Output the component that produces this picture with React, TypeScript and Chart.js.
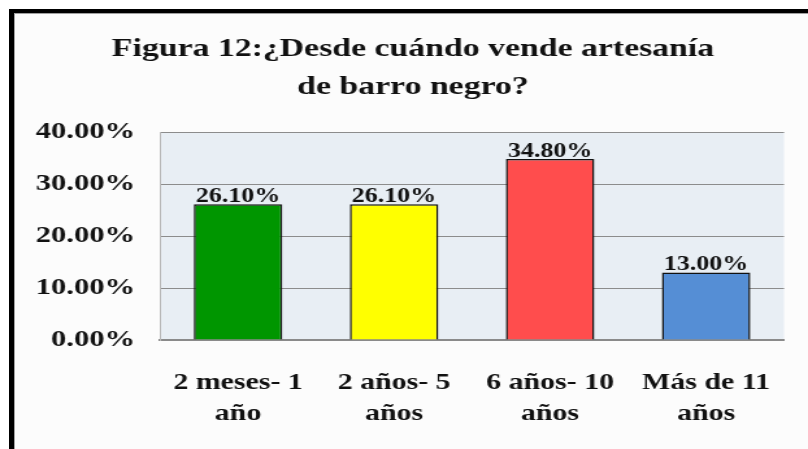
import React, { useEffect, useRef } from "react";
import { Chart, registerables } from "chart.js";

Chart.register(...registerables);

const titleLines = ["Figura 12:¿Desde cuándo vende artesanía", "de barro negro?"];
const categories: string[][] = [
  ["2 meses- 1", "año"],
  ["2 años- 5", "años"],
  ["6 años- 10", "años"],
  ["Más de 11", "años"],
];
const values = [26.1, 26.1, 34.8, 13.0];
const barColors = ["#009600", "#ffff00", "#ff4d4d", "#558ed5"];
const yTicks = [0, 10, 20, 30, 40];

const PAGE_W = 808;
const PAGE_H = 449;
const CANVAS_W = 622;
const SX = PAGE_W / CANVAS_W;
const SERIF = "'Liberation Serif', 'Times New Roman', serif";

const fmt = (v: number) => v.toFixed(2) + "%";

export default function App() {
  const ref = useRef<HTMLCanvasElement | null>(null);

  useEffect(() => {
    if (!ref.current) return;

    const plotBg = {
      id: "plotBg",
      beforeDraw(chart: any) {
        const { ctx, chartArea } = chart;
        ctx.save();
        ctx.fillStyle = "#e8eef4";
        ctx.fillRect(chartArea.left, chartArea.top, chartArea.right - chartArea.left, chartArea.bottom - chartArea.top);
        ctx.restore();
      },
    };

    const valueLabels = {
      id: "valueLabels",
      afterDatasetsDraw(chart: any) {
        const { ctx } = chart;
        const meta = chart.getDatasetMeta(0);
        ctx.save();
        ctx.font = `bold 20px ${SERIF}`;
        ctx.fillStyle = "#111";
        ctx.textAlign = "center";
        ctx.textBaseline = "alphabetic";
        meta.data.forEach((bar: any, i: number) => {
          ctx.fillText(fmt(values[i]), bar.x, bar.y - 2);
        });
        ctx.restore();
      },
    };

    const chart = new Chart(ref.current, {
      type: "bar",
      data: {
        labels: categories,
        datasets: [
          {
            data: values,
            backgroundColor: barColors,
            borderColor: "#111",
            borderWidth: 1.5,
            barPercentage: 0.567,
            categoryPercentage: 1,
          },
        ],
      },
      options: {
        animation: false,
        responsive: false,
        devicePixelRatio: 1,
        layout: { padding: { left: 23.8, right: 10, top: 0, bottom: 19 } },
        plugins: {
          legend: { display: false },
          tooltip: { enabled: false },
          title: {
            display: true,
            text: titleLines,
            color: "#111",
            font: { family: SERIF, size: 26, weight: "bold", lineHeight: 38 / 26 },
            padding: { top: 30, bottom: 26 },
          },
        },
        scales: {
          x: {
            afterFit(scale: any) {
              scale.height = 90;
            },
            grid: { display: false, drawTicks: false },
            border: { display: true, color: "#8a8a8a", width: 2 },
            ticks: {
              color: "#111",
              padding: 28,
              maxRotation: 0,
              font: { family: SERIF, size: 23, weight: "bold", lineHeight: 31 / 23 },
            },
          },
          y: {
            min: 0,
            max: 40,
            afterFit(scale: any) {
              scale.width = 99.4;
            },
            afterBuildTicks(scale: any) {
              scale.ticks = yTicks.map((v) => ({ value: v }));
            },
            grid: { color: "#8c8c8c", lineWidth: 1, drawTicks: false },
            border: { display: true, color: "#b8b8b8", width: 1 },
            ticks: {
              color: "#111",
              padding: 19.3,
              font: { family: SERIF, size: 23.5, weight: "bold" },
              callback: (v: any) => fmt(Number(v)),
            },
          },
        },
      },
      plugins: [plotBg, valueLabels],
    } as any);

    return () => chart.destroy();
  }, []);

  return (
    <div
      style={{
        position: "fixed",
        left: 0,
        top: 0,
        width: PAGE_W,
        height: PAGE_H,
        overflow: "hidden",
        background: "#ffffff",
      }}
    >
      <div
        style={{
          position: "absolute",
          left: 9,
          top: 9,
          width: PAGE_W,
          height: PAGE_H,
          borderTop: "4px solid #000",
          borderLeft: "5px solid #000",
          background: "#fcfcfc",
        }}
      >
        <div
          style={{
            position: "absolute",
            left: 0,
            top: 0,
            right: 0,
            bottom: 0,
            borderTop: "1px solid #a0a0a0",
            borderLeft: "1px solid #a0a0a0",
          }}
        />
      </div>
      <canvas
        ref={ref}
        width={CANVAS_W}
        height={PAGE_H}
        style={{
          position: "absolute",
          left: 0,
          top: 0,
          width: CANVAS_W,
          height: PAGE_H,
          transform: `scaleX(${SX})`,
          transformOrigin: "0 0",
        }}
      />
    </div>
  );
}
